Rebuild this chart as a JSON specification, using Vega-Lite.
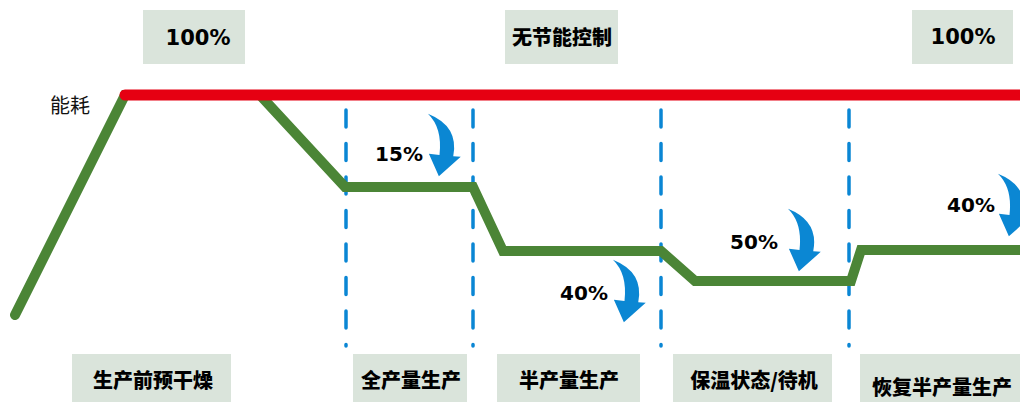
{
  "$schema": "https://vega.github.io/schema/vega-lite/v6.json",
  "width": 1020,
  "height": 402,
  "padding": 0,
  "autosize": {"type": "none"},
  "config": {"view": {"stroke": null}},
  "datasets": {
    "boxes": [
      {"x1": 143, "x2": 245, "y1": 10, "y2": 64},
      {"x1": 505, "x2": 618, "y1": 10, "y2": 64},
      {"x1": 912, "x2": 1013, "y1": 10, "y2": 64},
      {"x1": 72, "x2": 231, "y1": 354, "y2": 402},
      {"x1": 353, "x2": 467, "y1": 354, "y2": 402},
      {"x1": 497, "x2": 640, "y1": 354, "y2": 402},
      {"x1": 673, "x2": 832, "y1": 354, "y2": 402},
      {"x1": 860, "x2": 1020, "y1": 354, "y2": 402}
    ],
    "green": [
      {"i": 0, "x": 15, "y": 315},
      {"i": 1, "x": 125, "y": 95},
      {"i": 2, "x": 260, "y": 95},
      {"i": 3, "x": 345, "y": 187},
      {"i": 4, "x": 473, "y": 187},
      {"i": 5, "x": 503, "y": 251},
      {"i": 6, "x": 661, "y": 251},
      {"i": 7, "x": 695, "y": 281},
      {"i": 8, "x": 851, "y": 281},
      {"i": 9, "x": 861, "y": 250},
      {"i": 10, "x": 1030, "y": 250}
    ],
    "red": [
      {"i": 0, "x": 125, "y": 95},
      {"i": 1, "x": 1030, "y": 95}
    ],
    "dashes": [
      {"x": 346, "y1": 110, "y2": 346},
      {"x": 473, "y1": 110, "y2": 346},
      {"x": 661, "y1": 110, "y2": 346},
      {"x": 849, "y1": 110, "y2": 346}
    ],
    "arrows": [
      {"x": 442, "y": 145},
      {"x": 627, "y": 291},
      {"x": 802, "y": 240},
      {"x": 1012, "y": 205}
    ],
    "pct": [
      {"x": 198, "y": 39, "t": "100%", "s": 21},
      {"x": 963, "y": 38, "t": "100%", "s": 21},
      {"x": 399, "y": 155, "t": "15%", "s": 20},
      {"x": 584, "y": 294, "t": "40%", "s": 20},
      {"x": 754, "y": 243, "t": "50%", "s": 20},
      {"x": 971, "y": 206, "t": "40%", "s": 20}
    ],
    "cjk": [
      {"x": 562, "y": 39, "t": "无节能控制"},
      {"x": 153, "y": 382, "t": "生产前预干燥"},
      {"x": 411, "y": 382, "t": "全产量生产"},
      {"x": 569, "y": 382, "t": "半产量生产"},
      {"x": 754, "y": 382, "t": "保温状态/待机"},
      {"x": 942, "y": 389, "t": "恢复半产量生产"}
    ],
    "label": [
      {"x": 70, "y": 107, "t": "能耗"}
    ]
  },
  "layer": [
    {
      "data": {"name": "boxes"},
      "mark": {"type": "rect", "color": "#dae4db"},
      "encoding": {
        "x": {"field": "x1", "type": "quantitative", "scale": {"domain": [0, 1020], "nice": false, "zero": false}, "axis": null},
        "x2": {"field": "x2"},
        "y": {"field": "y1", "type": "quantitative", "scale": {"domain": [0, 402], "nice": false, "zero": false, "reverse": true}, "axis": null},
        "y2": {"field": "y2"}
      }
    },
    {
      "data": {"name": "dashes"},
      "mark": {"type": "rule", "color": "#0a86d4", "strokeWidth": 3.5, "strokeCap": "round", "strokeDash": [17, 16.5]},
      "encoding": {
        "x": {"field": "x", "type": "quantitative"},
        "y": {"field": "y1", "type": "quantitative"},
        "y2": {"field": "y2"}
      }
    },
    {
      "data": {"name": "green"},
      "mark": {"type": "line", "color": "#4b8536", "strokeWidth": 10, "strokeCap": "round", "strokeJoin": "miter"},
      "encoding": {
        "x": {"field": "x", "type": "quantitative"},
        "y": {"field": "y", "type": "quantitative"},
        "order": {"field": "i"}
      }
    },
    {
      "data": {"name": "red"},
      "mark": {"type": "line", "color": "#e60012", "strokeWidth": 11, "strokeCap": "round"},
      "encoding": {
        "x": {"field": "x", "type": "quantitative"},
        "y": {"field": "y", "type": "quantitative"},
        "order": {"field": "i"}
      }
    },
    {
      "data": {"name": "arrows"},
      "mark": {"type": "point", "filled": true, "color": "#0b87d3", "opacity": 1, "size": 3900,
        "shape": "M-0.45,-1 Q0.55,-0.6 0.36,0.36 L0.6,0.38 L-0.1,1 L-0.42,0.28 L-0.08,0.32 Q0.02,-0.55 -0.45,-1 Z"},
      "encoding": {
        "x": {"field": "x", "type": "quantitative"},
        "y": {"field": "y", "type": "quantitative"}
      }
    },
    {
      "data": {"name": "pct"},
      "mark": {"type": "text", "font": "DejaVu Sans", "fontWeight": "bold", "color": "#000000", "baseline": "middle", "align": "center"},
      "encoding": {
        "x": {"field": "x", "type": "quantitative"},
        "y": {"field": "y", "type": "quantitative"},
        "text": {"field": "t"},
        "size": {"field": "s", "type": "quantitative", "scale": null}
      }
    },
    {
      "data": {"name": "cjk"},
      "mark": {"type": "text", "font": "Noto Sans CJK SC", "fontWeight": 900, "fontSize": 20, "color": "#000000", "baseline": "middle", "align": "center"},
      "encoding": {
        "x": {"field": "x", "type": "quantitative"},
        "y": {"field": "y", "type": "quantitative"},
        "text": {"field": "t"}
      }
    },
    {
      "data": {"name": "label"},
      "mark": {"type": "text", "font": "Noto Sans CJK SC", "fontSize": 20, "color": "#111111", "baseline": "middle", "align": "center"},
      "encoding": {
        "x": {"field": "x", "type": "quantitative"},
        "y": {"field": "y", "type": "quantitative"},
        "text": {"field": "t"}
      }
    }
  ]
}
